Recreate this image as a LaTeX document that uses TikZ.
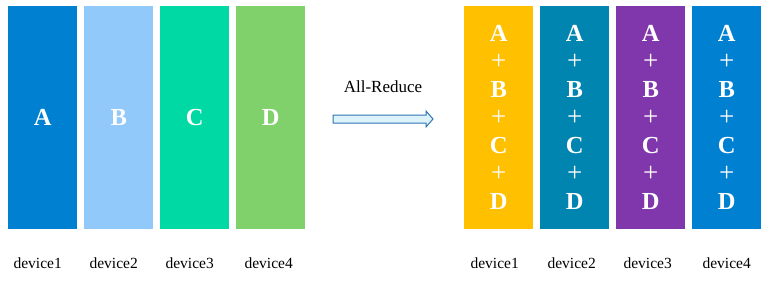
\documentclass[tikz,border=0pt]{standalone}
\usepackage{fontspec}
\setmainfont{Liberation Serif}
\definecolor{devblue}{HTML}{0080D0}
\definecolor{devsky}{HTML}{91C9FA}
\definecolor{devmint}{HTML}{00D9A3}
\definecolor{devgreen}{HTML}{80D06C}
\definecolor{devyellow}{HTML}{FFC000}
\definecolor{devteal}{HTML}{0085B0}
\definecolor{devpurple}{HTML}{7F37AB}
\definecolor{arrowline}{HTML}{2E75B6}
\definecolor{arrowfill}{HTML}{DDF3FA}
\newcommand{\plusop}{{\mdseries\fontsize{27}{28}\selectfont +}}

\begin{document}
\begin{tikzpicture}[
  x=1pt,
  y=-1pt,
  block/.style={anchor=north west, minimum width=69pt, minimum height=223pt,
    inner sep=0pt, text=white, align=center,
    font=\bfseries\fontsize{24.5}{28}\selectfont},
  devlabel/.style={font=\fontsize{15.5}{18}\selectfont, inner sep=0pt},
  blockarrow/.style={draw=arrowline, fill=arrowfill, line width=1pt}
]
  % ---- bounding box in pixels of the reference ----
  \useasboundingbox (0,0) rectangle (770,281);

  % ---- before: one chunk per device ----
  \foreach \i/\col/\txt/\dx in {1/devblue/A/-5, 2/devsky/B/-5, 3/devmint/C/-5,
                                4/devgreen/D/-2} {
    \node[block, fill=\col] (src\i) at ({8+76*(\i-1)},6) {\txt};
    \node[devlabel, xshift=\dx] (srclbl\i) at (src\i.center |- 0,263) {device\i};
  }

  % ---- after: every device holds the sum ----
  \foreach \i/\col/\dx in {1/devyellow/-4, 2/devteal/-3, 3/devpurple/-3,
                           4/devblue/0} {
    \node[block, fill=\col] (dst\i) at ({464+76*(\i-1)},6)
      {A\\\plusop\\B\\\plusop\\C\\\plusop\\D};
    \node[devlabel, xshift=\dx] (dstlbl\i) at (dst\i.center |- 0,263) {device\i};
  }

  % ---- block arrow between the two groups ----
  \draw[blockarrow] (333,115) -- (426,115) -- (426,111) -- (433,119)
    -- (426,127) -- (426,123) -- (333,123) -- cycle;
  \node[font=\fontsize{17}{20}\selectfont, inner sep=0pt] (opname) at (383,87)
    {All-Reduce};
\end{tikzpicture}
\end{document}
